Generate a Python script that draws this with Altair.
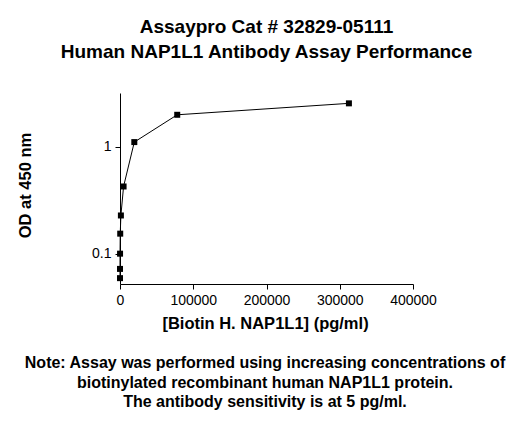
import altair as alt
import pandas as pd

# serial 4-fold dilution of biotinylated NAP1L1 (pg/ml) and OD at 450 nm
conc = [5, 19, 76, 305, 1221, 4883, 19531, 78125, 312500]
od = [0.059, 0.072, 0.100, 0.154, 0.228, 0.426, 1.11, 2.00, 2.56]

title_lines = ["Assaypro Cat # 32829-05111", "Human NAP1L1 Antibody Assay Performance"]
note_lines = [
    "Note: Assay was performed using increasing concentrations of",
    "biotinylated recombinant human NAP1L1 protein.",
    "The antibody sensitivity is at 5 pg/ml.",
]

FONT = "Liberation Sans"
W, H = 293, 191

df = pd.DataFrame({"conc": conc, "od": od})

x_enc = alt.X(
    "conc:Q",
    scale=alt.Scale(domain=[0, 400000], nice=False),
    axis=alt.Axis(
        values=[0, 100000, 200000, 300000, 400000],
        format="d",
        labelFlush=False,
        labelOverlap=False,
        title="[Biotin H. NAP1L1] (pg/ml)",
        titleX=145, titleY=39, titleBaseline="middle", titleAlign="center",
    ),
)
y_enc = alt.Y(
    "od:Q",
    scale=alt.Scale(type="log", domain=[0.052, 3.2], nice=False),
    axis=alt.Axis(
        values=[0.1, 1],
        format="~g",
        title="OD at 450 nm",
        titleX=-95, titleY=92, titleBaseline="middle", titleAlign="center",
    ),
)

line = alt.Chart(df).mark_line(color="black", strokeWidth=1).encode(x=x_enc, y=y_enc)
points = alt.Chart(df).mark_square(color="black", size=36, opacity=1).encode(x=x_enc, y=y_enc)

note = alt.Chart(pd.DataFrame({"t": [note_lines]})).mark_text(
    font=FONT, fontSize=16, fontWeight="bold", align="center", baseline="middle",
    lineHeight=19.5, color="black",
).encode(text="t", x=alt.value(145), y=alt.value(270))

chart = alt.layer(line, points, note).properties(
    width=W,
    height=H,
    autosize=alt.AutoSizeParams(type="none"),
    padding={"left": 112, "top": 85, "right": 109, "bottom": 133},
    title=alt.Title(
        title_lines, font=FONT, fontSize=19, fontWeight="bold", anchor="middle",
        lineHeight=25, offset=31, color="black",
    ),
).configure_view(strokeWidth=0).configure_axis(
    grid=False,
    domainColor="black",
    tickColor="black",
    tickSize=5,
    labelFont=FONT,
    labelFontSize=14,
    labelColor="black",
    labelPadding=4,
    titleFont=FONT,
    titleFontSize=16.5,
    titleFontWeight="bold",
    titleColor="black",
)

chart.save("out.html", embed_options={"renderer": "svg", "actions": False})
